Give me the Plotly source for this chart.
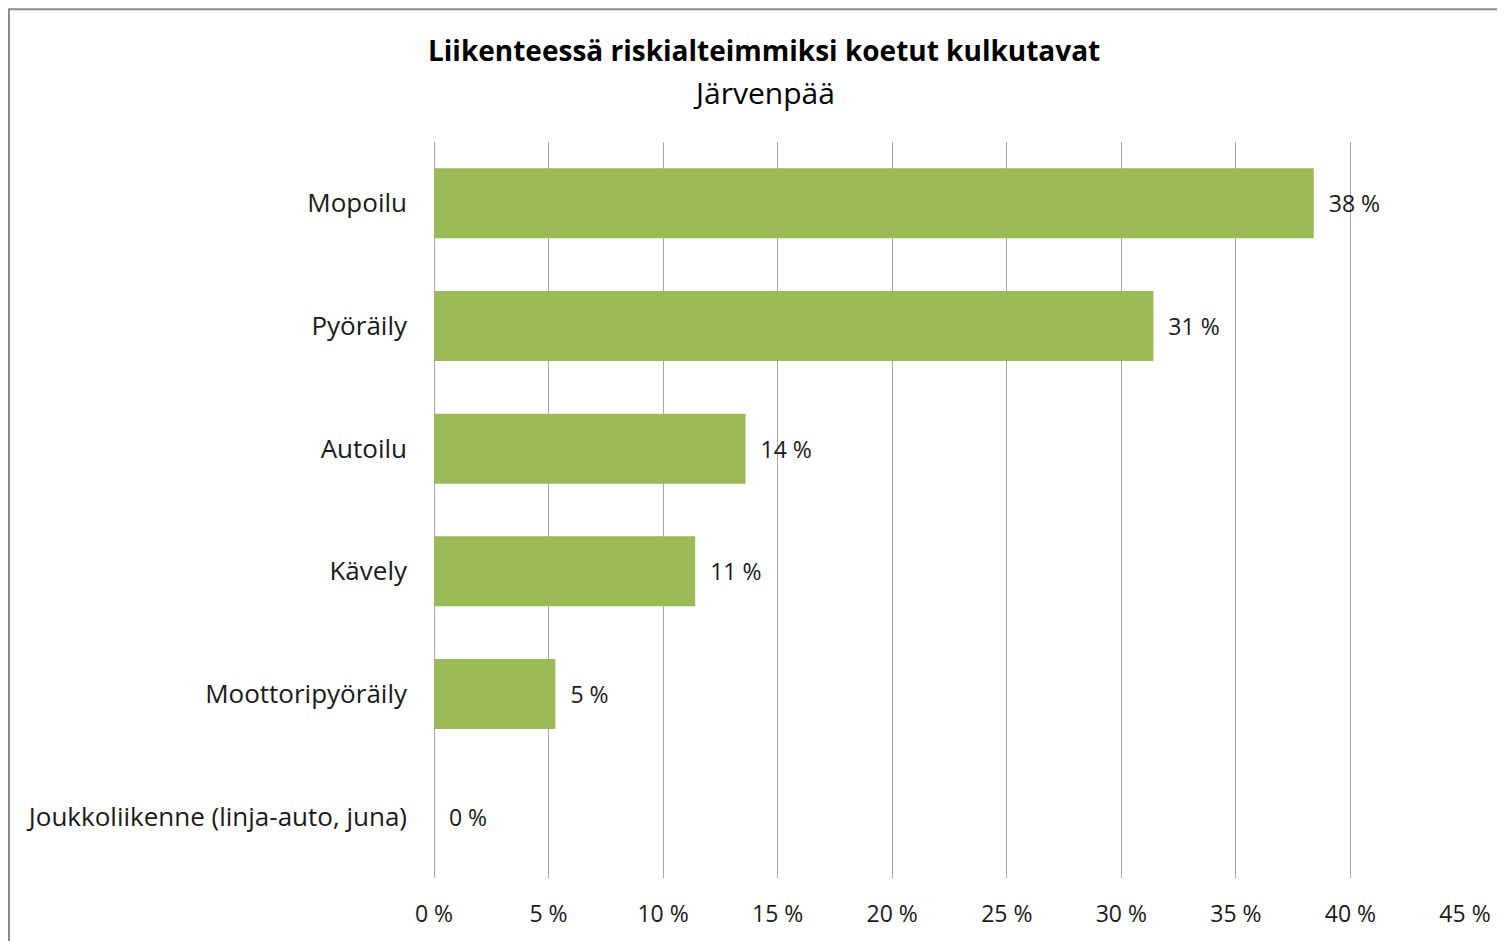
import plotly.graph_objects as go

categories = ["Mopoilu", "Pyöräily", "Autoilu", "Kävely", "Moottoripyöräily",
              "Joukkoliikenne (linja-auto, juna)"]
shares = [38.4, 31.4, 13.6, 11.4, 5.3, 0.0]
tick_values = [0, 5, 10, 15, 20, 25, 30, 35, 40, 45]
tick_labels = [f"{v} %" for v in tick_values]

font_family = "'Open Sans', Lato, sans-serif"

# page body has an 8px margin, so the figure is drawn 8px smaller
W, H = 1497, 933
L, T, PW, PH = 426, 134, 1031, 738

fig = go.Figure(go.Bar(
    x=shares,
    y=categories,
    orientation="h",
    marker=dict(color="#9BBB59", line=dict(width=0)),
    width=0.57,
    texttemplate="  %{x:.0f} %",
    textposition="outside",
    textfont=dict(size=23, color="#1a1a1a", family=font_family),
    cliponaxis=False,
))

fig.update_layout(
    width=W,
    height=H,
    margin=dict(l=L, r=W - L - PW, t=T, b=H - T - PH),
    paper_bgcolor="white",
    plot_bgcolor="white",
    showlegend=False,
    font=dict(family=font_family, size=26, color="#1a1a1a"),
    xaxis=dict(
        range=[0, 45],
        tickvals=tick_values,
        ticktext=tick_labels,
        tickfont=dict(size=23),
        showgrid=True,
        gridcolor="#a6a6a6",
        gridwidth=1,
        zeroline=True,
        zerolinecolor="#a6a6a6",
        zerolinewidth=1,
        ticks="",
        ticklabelstandoff=20,
        fixedrange=True,
    ),
    yaxis=dict(
        autorange="reversed",
        showgrid=False,
        ticks="",
        ticklabelstandoff=26,
        fixedrange=True,
    ),
    annotations=[
        dict(text="<b>Liikenteessä riskialteimmiksi koetut kulkutavat</b>",
             xref="paper", yref="paper", x=(764 - 434) / PW, y=(880 - 50) / PH,
             xanchor="center", yanchor="middle", showarrow=False,
             font=dict(size=28, color="#000000", family=font_family)),
        dict(text="Järvenpää",
             xref="paper", yref="paper", x=(764 - 434) / PW, y=(880 - 92) / PH,
             xanchor="center", yanchor="middle", showarrow=False,
             font=dict(size=30, color="#000000", family=font_family)),
    ],
    shapes=[
        dict(type="rect", xref="paper", yref="paper",
             x0=(1 - L) / PW, x1=1.2, y0=-0.3, y1=(T + PH - 1) / PH,
             line=dict(color="#8c8c8c", width=2), fillcolor="rgba(0,0,0,0)",
             layer="below"),
    ],
)

fig.write_html("out.html")
